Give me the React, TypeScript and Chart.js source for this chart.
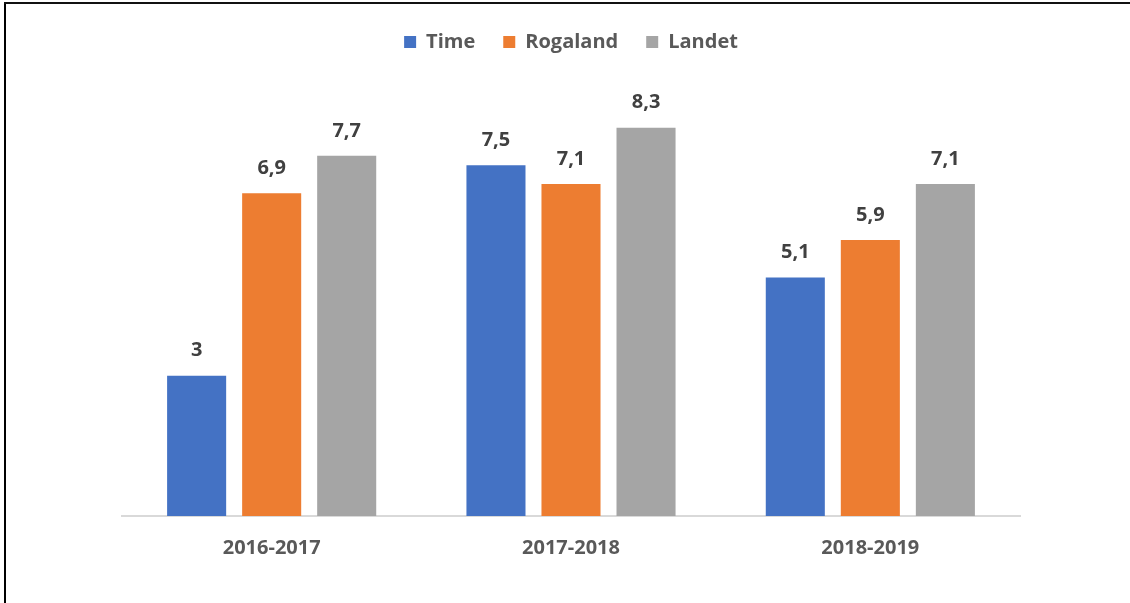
import React, { useEffect, useRef } from "react";
import { Chart, registerables } from "chart.js";

Chart.register(...registerables);

const categories = ["2016-2017", "2017-2018", "2018-2019"];
const timeValues = [3, 7.5, 5.1];
const rogalandValues = [6.9, 7.1, 5.9];
const landetValues = [7.7, 8.3, 7.1];
const seriesNames = ["Time", "Rogaland", "Landet"];
const seriesColors = ["#4472C4", "#ED7D31", "#A5A5A5"];

const FONT = "'Open Sans', 'DejaVu Sans', sans-serif";

const labelPlugin = {
  id: "barLabels",
  afterDatasetsDraw(chart: any) {
    const ctx = chart.ctx;
    ctx.save();
    ctx.font = `bold 20px ${FONT}`;
    ctx.fillStyle = "#404040";
    ctx.textAlign = "center";
    ctx.textBaseline = "bottom";
    chart.data.datasets.forEach((ds: any, di: number) => {
      const meta = chart.getDatasetMeta(di);
      meta.data.forEach((el: any, i: number) => {
        const v = ds.data[i];
        const txt = String(v).replace(".", ",");
        ctx.fillText(txt, el.x, el.y - 15);
      });
    });
    ctx.restore();
  },
};

const legendSpacer = {
  id: "legendSpacer",
  beforeInit(chart: any) {
    const origFit = chart.legend.fit;
    chart.legend.fit = function () {
      origFit.bind(chart.legend)();
      this.height += 33;
    };
  },
};

export default function App() {
  const ref = useRef<HTMLCanvasElement>(null);
  useEffect(() => {
    document.body.style.margin = "0";
    const chart = new Chart(ref.current!, {
      type: "bar",
      data: {
        labels: categories,
        datasets: [timeValues, rogalandValues, landetValues].map((d, i) => ({
          label: seriesNames[i],
          data: d,
          backgroundColor: seriesColors[i],
          borderWidth: 0,
          categoryPercentage: 0.752,
          barPercentage: 0.787,
        })),
      },
      options: {
        responsive: false,
        animation: false,
        layout: { padding: { left: 122, right: 110, top: 4, bottom: 31 } },
        plugins: {
          legend: {
            position: "top",
            labels: {
              font: { family: FONT, size: 20, weight: "bold" },
              color: "#595959",
              boxWidth: 12,
              boxHeight: 12,
              padding: 28,
            },
          },
          tooltip: { enabled: false },
        },
        scales: {
          x: {
            grid: { display: false },
            border: { display: true, color: "#D9D9D9", width: 2 },
            ticks: {
              font: { family: FONT, size: 20, weight: "bold" },
              color: "#595959",
              padding: 12,
            },
          },
          y: {
            display: false,
            min: 0,
            max: 9,
          },
        },
      },
      plugins: [labelPlugin, legendSpacer],
    });
    return () => chart.destroy();
  }, []);
  return (
    <div style={{ position: "absolute", left: 0, top: 0, width: 1130, height: 603, background: "#fff" }}>
      <canvas ref={ref} width={1130} height={603} style={{ position: "absolute", left: 0, top: 0 }} />
      <div style={{ position: "absolute", left: 4, top: 2, width: 2, height: 601, background: "#000" }} />
      <div style={{ position: "absolute", left: 4, top: 2, width: 1126, height: 2, background: "#111" }} />
    </div>
  );
}
